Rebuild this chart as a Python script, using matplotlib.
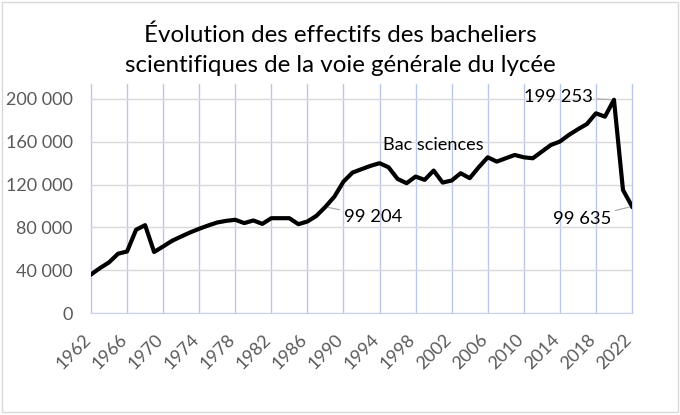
import matplotlib
matplotlib.use("Agg")
import matplotlib.pyplot as plt
from matplotlib.patches import Rectangle
from matplotlib.ticker import FuncFormatter
from matplotlib.transforms import ScaledTranslation

plt.rcParams['font.family'] = ['Lato', 'DejaVu Sans']

# effectifs des bacheliers scientifiques, voie générale
years = list(range(1962, 2023))
effectifs = [
    36000, 42000, 47300, 55400, 57500, 77800, 82100, 57000, 62200, 67500,
    71500, 75300, 78700, 81800, 84600, 86100, 87100, 84000, 86500, 83300,
    88600, 88600, 88600, 83000, 85500, 90800, 99204, 108800, 122800, 131200,
    134400, 137500, 140000, 136200, 125300, 121300, 127500, 124400, 133100, 121900,
    123800, 130600, 126000, 136200, 145500, 141500, 144600, 147700, 145500, 144600,
    150800, 157000, 160200, 166400, 171700, 176600, 186600, 183500, 199253, 115000,
    99635,
]

title_lines = ["Évolution des effectifs des bacheliers",
               "scientifiques de la voie générale du lycée"]
series_name = "Bac sciences"
year_ticks = list(range(1962, 2023, 4))
labelled_years = [1988, 2020, 2022]
label_offsets = [(34, -7), (-40, 2), (-36, -9)]

fig = plt.figure(figsize=(6.8, 4.15), dpi=100)
ax = fig.add_axes([91 / 680, 1 - 313 / 415, (632 - 91) / 680, (313 - 84) / 415])

ax.plot(years, effectifs, color='black', lw=3, solid_joinstyle='round', zorder=3)

ax.set_xlim(1962, 2022)
ax.set_ylim(0, 214000)
ax.set_xticks(year_ticks)
ax.set_yticks(range(0, 200001, 40000))
ax.yaxis.set_major_formatter(FuncFormatter(lambda v, p: f"{int(v):,}".replace(",", " ")))

ax.grid(axis='x', color='#b9c8e6', lw=1)
ax.grid(axis='y', color='#d9d9d9', lw=1)
ax.set_axisbelow(True)
for gl in ax.get_xgridlines():
    gl.set_clip_on(False)
for s in ['top', 'left', 'right']:
    ax.spines[s].set_visible(False)
ax.spines['bottom'].set_color('#c8d2e8')
ax.tick_params(length=0, colors='#595959', labelsize=13)
ax.tick_params(axis='y', pad=13)
ax.tick_params(axis='x', pad=13)
shift = ScaledTranslation(3 / 100, 0, fig.dpi_scale_trans)
for lab in ax.get_xticklabels():
    lab.set_rotation(45)
    lab.set_ha('right')
    lab.set_va('top')
    lab.set_transform(lab.get_transform() + shift)

for yr, off in zip(labelled_years, label_offsets):
    v = effectifs[years.index(yr)]
    ax.annotate(f"{v:,}".replace(",", " "), xy=(yr, v), xytext=off,
                textcoords='offset points', ha='center', va='center',
                fontsize=13.2, color='black',
                arrowprops=dict(arrowstyle='-', color='#a6a6a6', lw=0.8,
                                shrinkA=1, shrinkB=2))

ax.text(2000, 157000, series_name, ha='center', va='center', fontsize=13.1, color='black')

for i, line in enumerate(title_lines):
    fig.text(0.5, 1 - (35 + 31 * i) / 415, line, ha='center', va='center',
             fontsize=17.4, color='black')

fig.patches.append(Rectangle((2 / 680, 3 / 415), 676 / 680, 410 / 415,
                             transform=fig.transFigure, fill=False,
                             edgecolor='#d9d9d9', lw=1))

fig.savefig('out.png', dpi=100)
